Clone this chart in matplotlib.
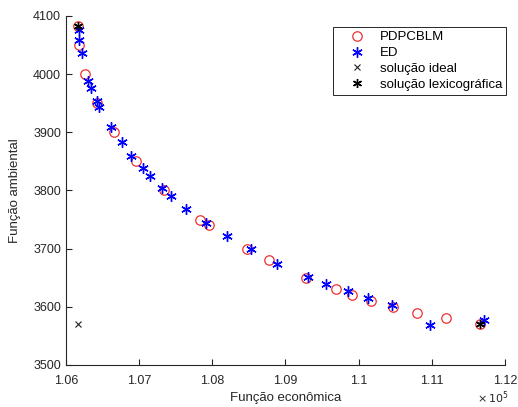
import matplotlib.pyplot as plt
from matplotlib.ticker import FuncFormatter

plt.rcParams['font.family'] = ['Liberation Sans', 'DejaVu Sans']
plt.rcParams['font.size'] = 9

# PDPCBLM front (economic cost, environmental cost)
pdpcblm_eco = [106170, 106182, 106264, 106428, 106656, 106953, 107343, 107831,
               107958, 108470, 108774, 109280, 109690, 109913, 110168, 110465,
               110797, 111193, 111665]
pdpcblm_amb = [4082, 4050, 4000, 3950, 3900, 3850, 3800, 3750,
               3740, 3700, 3680, 3650, 3630, 3620, 3610, 3600,
               3590, 3580, 3570]

# ED front
ed_eco = [106172, 106182, 106215, 106305, 106342, 106420, 106455, 106611,
          106761, 106888, 107056, 107148, 107316, 107431, 107640, 107913,
          108196, 108528, 108888, 109311, 109553, 109858, 110123, 110460,
          110975, 111717]
ed_amb = [4076, 4058, 4036, 3989, 3977, 3954, 3943, 3909,
          3883, 3860, 3838, 3825, 3804, 3791, 3768, 3744,
          3722, 3699, 3674, 3651, 3639, 3627, 3615, 3604,
          3569, 3577]

ideal_eco = [106165]
ideal_amb = [3570]

lex_eco = [106165, 111665]
lex_amb = [4082, 3570]

fig = plt.figure(figsize=(5.18, 4.07), dpi=100)
ax = fig.add_axes([0.1274, 0.1032, 0.8475, 0.8575])

ax.plot(pdpcblm_eco, pdpcblm_amb, 'o', color='#f03030', mfc='none', ms=6.8,
        mew=0.9, label='PDPCBLM')
ax.plot(ed_eco, ed_amb, ls='none', marker=(6, 2, 0), color='#0000ff', ms=7.5,
        mew=1.0, label='ED')
ax.plot(ideal_eco, ideal_amb, 'x', color='#222222', ms=5, mew=0.8,
        label='solução ideal')
ax.plot(lex_eco, lex_amb, ls='none', marker=(6, 2, 0), color='black', ms=6.5,
        mew=1.0, label='solução lexicográfica')

ax.set_xlim(106000, 112000)
ax.set_ylim(3500, 4100)
ax.set_xticks([106000 + 1000 * i for i in range(7)])
ax.set_yticks([3500 + 100 * i for i in range(7)])
ax.xaxis.set_major_formatter(FuncFormatter(lambda v, p: '%g' % round(v / 1e5, 2)))

ax.spines['top'].set_visible(False)
ax.spines['right'].set_visible(False)
for s in ('left', 'bottom'):
    ax.spines[s].set_linewidth(0.8)
    ax.spines[s].set_color('#262626')
ax.tick_params(direction='in', length=4, width=0.8, colors='#262626',
               labelsize=9, labelcolor='#262626')
ax.tick_params(axis='x', pad=7)

ax.set_xlabel('Função econômica', fontsize=9.5, color='#262626', labelpad=4)
ax.set_ylabel('Função ambiental', fontsize=9.5, color='#262626', labelpad=9)
fig.text(0.982, 0.012, r'$\times\,10^5$', fontsize=8, color='#262626',
         ha='right')

leg = ax.legend(loc='upper right', bbox_to_anchor=(1.002, 0.968),
                borderaxespad=0, fancybox=False, framealpha=1,
                edgecolor='#262626', fontsize=9.5, handletextpad=0.2,
                labelspacing=0.27, borderpad=0.3, handlelength=3.0)
leg.get_frame().set_linewidth(0.7)

fig.savefig('out.png', dpi=100)
